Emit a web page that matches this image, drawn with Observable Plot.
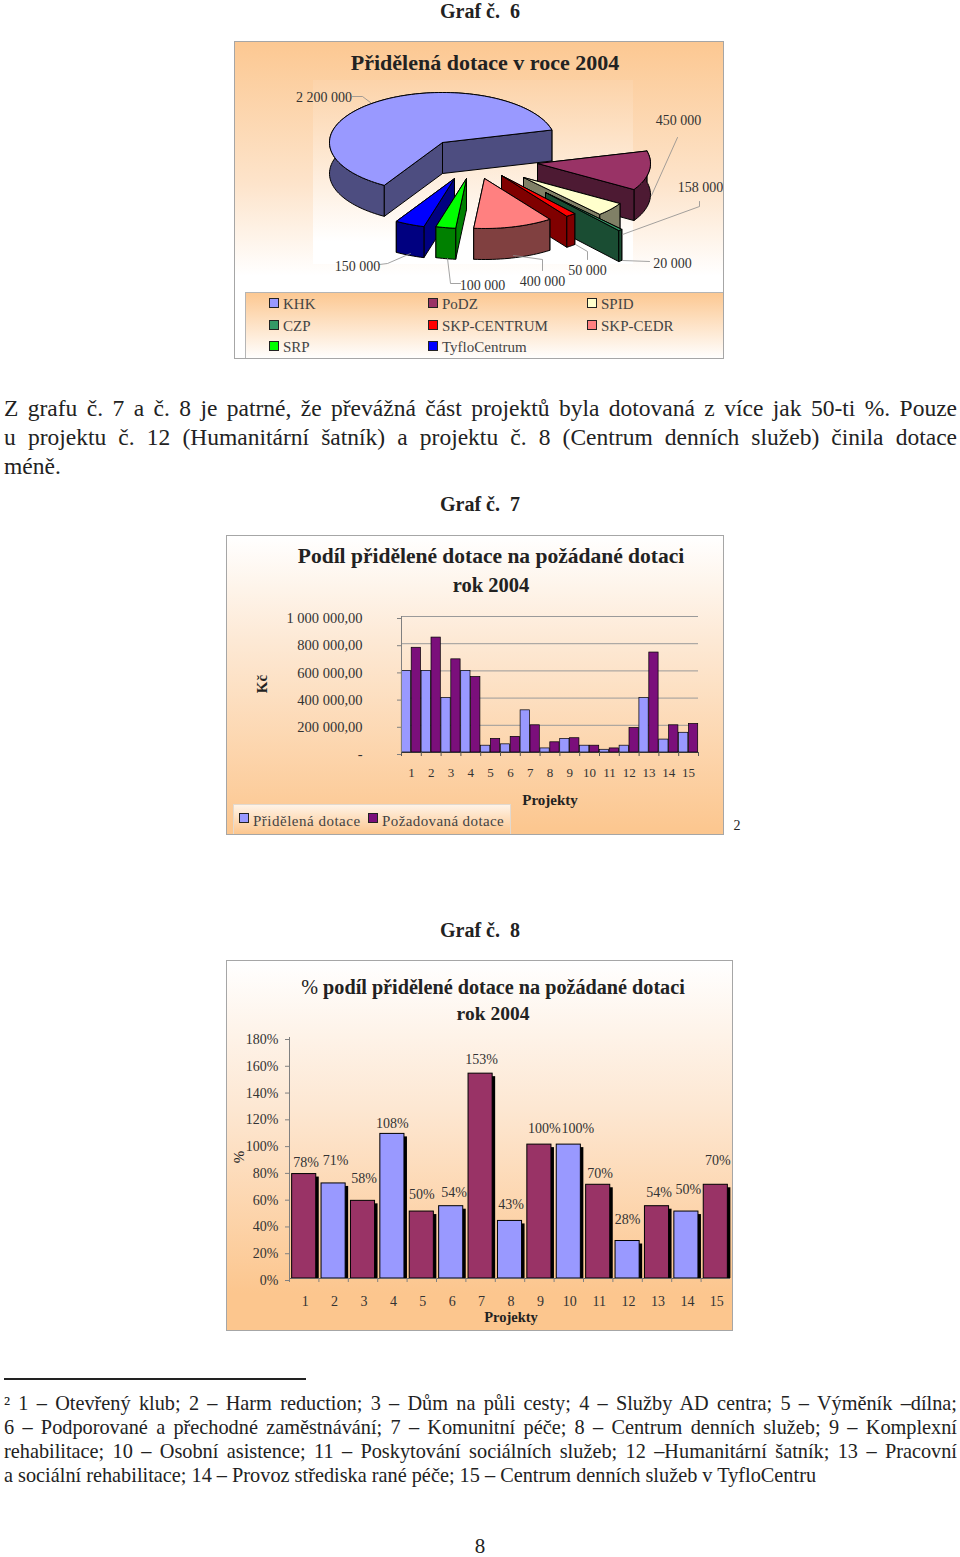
<!DOCTYPE html>
<html lang="cs">
<head>
<meta charset="utf-8">
<script src="https://cdn.jsdelivr.net/npm/d3@7"></script>
<script src="https://cdn.jsdelivr.net/npm/@observablehq/plot@0.6"></script>
<style>
html,body{margin:0;padding:0;background:#fff;}
#page{position:relative;width:960px;height:1557px;overflow:hidden;font-family:"Liberation Serif",serif;color:#222;}
.t{position:absolute;white-space:nowrap;transform:translate(-50%,-50%);line-height:1;}
.frame{position:absolute;box-sizing:border-box;border:1px solid #a6a6a6;overflow:hidden;}
.frame svg,.plot svg{display:block;background:transparent;}
.plot{position:absolute;}
.line{position:absolute;left:4px;width:953px;white-space:nowrap;text-align:justify;text-align-last:justify;color:#222;}
.sw{position:absolute;width:8px;height:8px;border:1px solid #222;}
</style>
</head>
<body>
<div id="page"></div>
<script>
const SERIF = "'Liberation Serif',serif";
// ---------- DATA ----------
const pieNames  = ["KHK","PoDZ","SPID","CZP","SKP-CENTRUM","SKP-CEDR","SRP","TyfloCentrum"];
const pieValues = [2200000,450000,158000,20000,50000,400000,100000,150000];
const pieLabels = ["2 200 000","450 000","158 000","20 000","50 000","400 000","100 000","150 000"];
const projects  = [1,2,3,4,5,6,7,8,9,10,11,12,13,14,15];
const granted   = [600000,600000,400000,600000,50000,60000,310000,30000,100000,50000,20000,50000,400000,95000,145000];
const requested = [770000,845000,685000,555000,100000,115000,200000,75000,105000,50000,30000,180000,735000,200000,210000];
const sharePct  = [78,71,58,108,50,54,153,43,100,100,70,28,54,50,70];
const shareKind = ["a","b","a","b","a","b","a","b","a","b","a","b","a","b","a"];
const yTicksKc  = [0,200000,400000,600000,800000,1000000];
const yTicksPct = [0,20,40,60,80,100,120,140,160,180];

// ---------- STYLE / LAYOUT ----------
const topColors  = ["#9999ff","#993366","#ffffcc","#339966","#ff0000","#ff8080","#00ff00","#0000ff"];
const sideColors = ["#4d4d80","#4d1a33","#808066","#1a4d33","#800000","#804040","#008000","#000080"];
const apexX = [442,537,523,545,501,484,466,454];
const apexY = [142,163,177,192,175,178,178,178];
const drawOrder = [0,1,2,3,4,5,7,6];
const pieStart = 211, rx = 113, ry = 50, depth = 31;
const labelX = [323.5,678,700,672,587,542,482,357];
const labelY = [97,120,187,263,270,281,285,266];
const leaders = [
  [[352,96],[362,96],[370,102]],
  [[677,137],[651,195]],
  [[699,201],[699,206],[622,234]],
  [[649,261],[622,260]],
  [[587,259],[587,251],[575,244]],
  [[542,270],[542,259],[513,255]],
  [[460,283],[450,283],[447,258]],
  [[379,264],[387,263],[410,253]]
];
const page = document.getElementById("page");
function el(cls, css, txt, parent){
  const d = document.createElement("div");
  d.className = cls; d.style.cssText = css;
  if (txt !== undefined) d.textContent = txt;
  (parent||page).appendChild(d); return d;
}
function text(x,y,txt,size,extra){ return el("t",`left:${x}px;top:${y}px;font-size:${size}px;${extra||""}`,txt); }

// ---------- PIE geometry from the values ----------
const total = d3.sum(pieValues);
const pt = (i,deg,down=0)=>{const a=deg*Math.PI/180;return [apexX[i]+rx*Math.sin(a),apexY[i]-ry*Math.cos(a)+down];};
let ang = pieStart;
const spans = pieValues.map(v=>{const s=ang,e=ang+v/total*360;ang=e;return [s,e];});
const pieRows = [];
function pushFace(key,pts,fill){ [...pts,pts[0]].forEach(p=>pieRows.push({key,px:p[0],py:p[1],fill})); }
drawOrder.forEach(i=>{
  const [s,e]=spans[i];
  const n=Math.max(2,Math.ceil((e-s)/2));
  const arc=d3.range(n+1).map(k=>s+(e-s)*k/n);
  const apex=[apexX[i],apexY[i]];
  const down=p=>[p[0],p[1]+depth];
  const top=arc.map(a=>pt(i,a));
  const walls=[
    [apex,top[0],down(top[0]),down(apex)],
    [apex,top[n],down(top[n]),down(apex)],
    [...top,...top.map(down).reverse()]
  ];
  walls.map(w=>({w,m:d3.mean(w,p=>p[1])})).sort((a,b)=>a.m-b.m)
    .forEach((o,k)=>pushFace(`${i}-w${k}`,o.w,sideColors[i]));
  pushFace(`${i}-top`,[apex,...top],topColors[i]);
});
const leaderRows = leaders.flatMap((l,i)=>l.map(p=>({i,px:p[0],py:p[1]})));
const pieTable = pieLabels.map((label,i)=>({label,px:labelX[i],py:labelY[i]}));

// ---------- static text ----------
const cap = "font-weight:bold;";
text(480,11,"Graf č.\u00a0\u00a06",20,cap);
text(480,504,"Graf č.\u00a0\u00a07",20,cap);
text(480,930,"Graf č.\u00a0\u00a08",20,cap);

// ---------- CHART 1 ----------
const f1 = el("frame","left:234px;top:41px;width:490px;height:318px;background:linear-gradient(#fcc892 0%,#fde4cb 45%,#fff 74%);");
el("", "position:absolute;left:78px;top:38px;width:320px;height:184px;background:linear-gradient(#fcd3a9,#fff 88%);", undefined, f1);
el("", "position:absolute;left:10px;top:250px;width:480px;height:67px;box-sizing:border-box;border:1px solid #b5b5b5;border-right:none;border-bottom:none;background:linear-gradient(#fcc892,#fff);", undefined, f1);
const w1 = el("plot","left:235px;top:42px;");
w1.appendChild(Plot.plot({
  width:488,height:316,margin:0,
  x:{domain:[235,723],range:[0,488],axis:null},
  y:{domain:[42,358],range:[0,316],axis:null},
  color:{type:"identity"},
  style:{background:"transparent",fontFamily:SERIF,fontSize:"14px"},
  marks:[
    Plot.line(pieRows,{x:"px",y:"py",z:"key",fill:"fill",stroke:"#000",strokeWidth:1,strokeLinejoin:"round"}),
    Plot.line(leaderRows,{x:"px",y:"py",z:"i",stroke:"#8c8c8c",strokeWidth:.8}),
    Plot.text(pieTable,{x:"px",y:"py",text:"label",fill:"#333"})
  ]
}));
text(485,62.5,"Přidělená dotace v roce 2004",22,cap);
const legCols=[269,428,587], legRows=[303,325,346];
pieNames.forEach((n,i)=>{
  const c=i%3, r=Math.floor(i/3);
  el("sw",`left:${legCols[c]}px;top:${legRows[r]-5}px;background:${topColors[i]};`);
  el("t",`left:${legCols[c]+14}px;top:${legRows[r]+1}px;font-size:15px;transform:translateY(-50%);color:#444;`,n);
});

// ---------- body text ----------
const bodyLines=[
 "Z grafu č. 7 a č. 8 je patrné, že převážná část projektů byla dotovaná z více jak 50-ti %. Pouze",
 "u projektu č. 12 (Humanitární šatník) a projektu č. 8 (Centrum denních služeb) činila dotace"
];
bodyLines.forEach((l,i)=>el("line",`top:${395+i*29}px;font-size:23.5px;line-height:27px;`,l));
el("line","top:453px;font-size:23.5px;line-height:27px;text-align-last:left;","méně.");

// ---------- CHART 2 ----------
el("frame","left:226px;top:535px;width:498px;height:300px;background:linear-gradient(#fff 0%,#fde9d5 35%,#fcc68e 100%);");
const c2rows = projects.flatMap((p,i)=>[
  {s:"Přidělená dotace",a:p-.5,b:p,v:granted[i]},
  {s:"Požadovaná dotace",a:p,b:p+.5,v:requested[i]}
]);
const nf = d3.formatLocale({decimal:",",thousands:"\u00a0",grouping:[3]}).format(",.2f");
const w2 = el("plot","left:226px;top:535px;");
w2.appendChild(Plot.plot({
  width:497,height:298,
  marginLeft:175,marginRight:25,marginTop:81,marginBottom:81,
  x:{type:"linear",domain:[.5,15.5]},
  y:{domain:[0,1000000]},
  color:{domain:["Přidělená dotace","Požadovaná dotace"],range:["#9999ff","#7b0f7b"]},
  style:{background:"transparent",fontFamily:SERIF,fontSize:"14.5px"},
  marks:[
    Plot.ruleY(yTicksKc.slice(1),{stroke:"#9a9a9a",strokeWidth:1}),
    Plot.rectY(c2rows,{x1:"a",x2:"b",y:"v",fill:"s",stroke:"#000",strokeWidth:.7,insetLeft:.3,insetRight:.3}),
    Plot.ruleX([.5],{stroke:"#808080"}),
    Plot.ruleY([0],{stroke:"#333"}),
    Plot.axisY(yTicksKc,{tickSize:4,tickPadding:35,dy:2,stroke:"#808080",fill:"#333",label:null,
      tickFormat:v=>v===0?"-":nf(v)}),
    Plot.axisX([...projects.map(p=>p-.5),15.5],{tickSize:4,tickFormat:()=>"",stroke:"#555",label:null}),
    Plot.axisX(projects,{tickSize:0,tickPadding:15,fill:"#333",fontSize:13,label:null,tickFormat:d=>d})
  ]
}));
text(491,557,"Podíl přidělené dotace na požádané dotaci",21.5,cap);
text(491,585,"rok 2004",20.5,cap);
text(262,684,"Kč",15,cap+"transform:translate(-50%,-50%) rotate(-90deg);");
text(550,800,"Projekty",15,cap);
el("","position:absolute;left:233px;top:804px;width:278px;height:30px;box-sizing:border-box;border:1px solid #e2d9cf;border-bottom:none;background:linear-gradient(#fff3e6,#fcc68e);");
el("sw","left:239px;top:813px;background:#9999ff;");
el("sw","left:368px;top:813px;background:#7b0f7b;");
el("t","left:253px;top:821px;font-size:15px;letter-spacing:.5px;transform:translateY(-50%);color:#444;","Přidělená dotace");
el("t","left:382px;top:821px;font-size:15px;letter-spacing:.4px;transform:translateY(-50%);color:#444;","Požadovaná dotace");
text(737,826,"2",14);

// ---------- CHART 3 ----------
el("frame","left:226px;top:960px;width:507px;height:371px;background:linear-gradient(#fff 0%,#fde7d2 40%,#fcc68e 90%,#fcc68e 100%);");
const labelLift=[12,23,22,10,17,14,14,16,16,16,11,21,14,22,24];
const labelShift=[2,2,1,0,0,3,1,1,5,9,2,0,2,2,2];
const unitPerPx=180/241;
const c3rows = projects.map((p,i)=>({p,v:sharePct[i],k:shareKind[i],
  label:sharePct[i]+"%",ly:sharePct[i]+labelLift[i]*unitPerPx,dx:labelShift[i]}));
const step = 441/15;
const w3 = el("plot","left:226px;top:960px;");
w3.appendChild(Plot.plot({
  width:506,height:370,
  marginLeft:63,marginRight:2,marginTop:77,marginBottom:52,
  x:{type:"band",domain:projects,paddingInner:.18,paddingOuter:.09,align:.5,round:false},
  y:{domain:[0,180]},
  color:{domain:["a","b"],range:["#993366","#9999ff"]},
  style:{background:"transparent",fontFamily:SERIF,fontSize:"14px",overflow:"visible"},
  marks:[
    Plot.barY(c3rows,{x:"p",y1:0,y2:d=>d.v-3*unitPerPx,dx:3,fill:"#000"}),
    Plot.barY(c3rows,{x:"p",y:"v",fill:"k",stroke:"#000",strokeWidth:1}),
    Plot.ruleX([projects[0]],{dx:-step/2,stroke:"#808080"}),
    Plot.ruleY([0],{stroke:"#666"}),
    Plot.axisY(yTicksPct,{tickSize:4,tickPadding:7,dy:2,stroke:"#808080",fill:"#333",label:null,tickFormat:v=>v+"%"}),
    Plot.axisX(projects,{tickSize:4,tickFormat:()=>"",dx:-step/2,stroke:"#808080",label:null}),
    Plot.axisX(projects,{tickSize:0,tickPadding:18,dx:1,fill:"#333",label:null,tickFormat:d=>d}),
    ...[0,1,2,3,5,9].map(s=>Plot.text(c3rows.filter(d=>d.dx===s),{x:"p",y:"ly",text:"label",dx:s,fill:"#333"}))
  ]
}));
const t3 = text(493,987,"",20.2,cap);
t3.innerHTML = '<span style="font-weight:normal">%</span> podíl přidělené dotace na požádané dotaci';
text(493,1014,"rok 2004",19.5,cap);
text(239,1157,"%",15,"transform:translate(-50%,-50%) rotate(-90deg);");
text(511,1317,"Projekty",14.5,cap);

// ---------- footnote ----------
el("","position:absolute;left:4px;top:1378px;width:302px;height:1.5px;background:#222;");
const notes=[
 "² 1 – Otevřený klub; 2 – Harm reduction; 3 – Dům na půli cesty; 4 – Služby AD centra; 5 – Výměník –dílna;",
 "6 – Podporované a přechodné zaměstnávání; 7 – Komunitní péče; 8 – Centrum denních služeb; 9 – Komplexní",
 "rehabilitace; 10 – Osobní asistence; 11 – Poskytování sociálních služeb; 12 –Humanitární šatník; 13 – Pracovní"
];
notes.forEach((l,i)=>el("line",`top:${1391+i*24}px;font-size:20.3px;line-height:24px;`,l));
el("line","top:1463px;font-size:20.3px;line-height:24px;text-align-last:left;","a sociální rehabilitace; 14 – Provoz střediska rané péče; 15 – Centrum denních služeb v TyfloCentru");
text(480,1546,"8",21);
</script>
</body>
</html>
